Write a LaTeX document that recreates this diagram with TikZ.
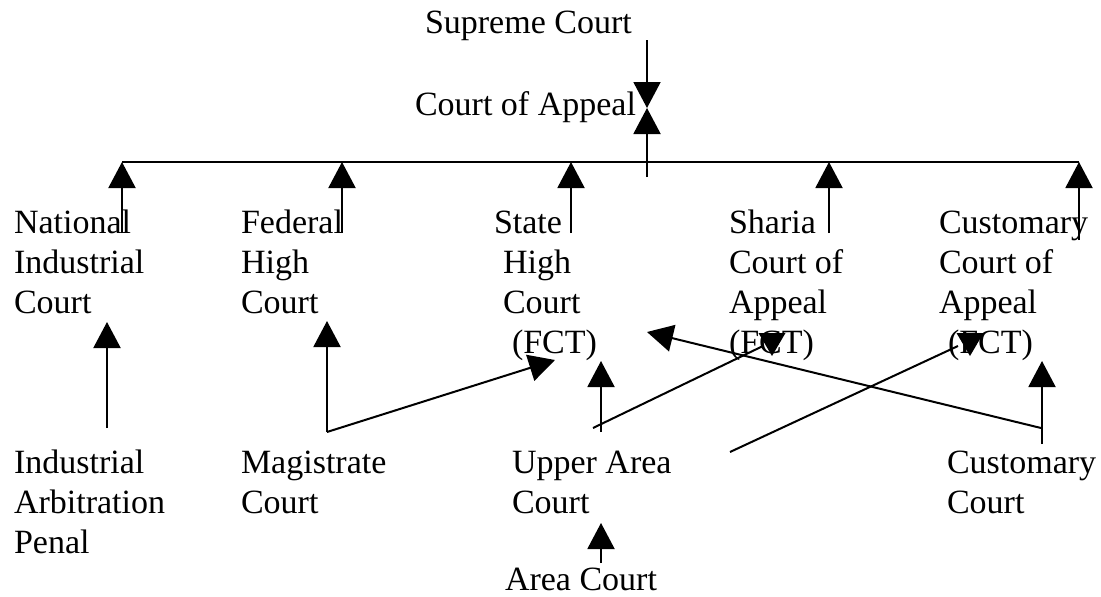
\documentclass[tikz,border=0pt]{standalone}
\usepackage{fontspec}
\setmainfont{Liberation Serif}
\usetikzlibrary{arrows.meta}
\begin{document}
\begin{tikzpicture}[x=1pt,y=-1pt,
  lbl/.style={anchor=base west,inner sep=0pt,outer sep=0pt,align=left,font=\fontsize{34}{40}\selectfont},
  conn/.style={line width=2pt},
  arr/.style={conn,-{Triangle[width=27pt,length=26pt]}},
  tri/.style={fill=black}]
\useasboundingbox (0,0) rectangle (1101,597);
% text nodes (anchored at the baseline of their last line)
\node[lbl] (sc) at (425,33) {Supreme Court};
\node[lbl] (ca) at (415,115) {Court of Appeal};
\node[lbl] (nic) at (14,313) {National\\Industrial\\Court};
\node[lbl] (fhc) at (241,313) {Federal\\High\\Court};
\node[lbl] (shc) at (494,353) {State\\\hspace*{9pt}High\\\hspace*{9pt}Court\\\hspace*{18pt}(FCT)};
\node[lbl] (sca) at (729,353) {Sharia\\Court of\\Appeal\\(FCT)};
\node[lbl] (cca) at (939,353) {Customary\\Court of\\Appeal\\\hspace*{9pt}(FCT)};
\node[lbl] (iap) at (14,553) {Industrial\\Arbitration\\Penal};
\node[lbl] (mc) at (241,513) {Magistrate\\Court};
\node[lbl] (uac) at (512,513) {Upper Area\\Court};
\node[lbl] (cc) at (947,513) {Customary\\Court};
\node[lbl] (ac) at (505,590) {Area Court};
% coordinates
\coordinate (top) at (647,40);
\coordinate (meet) at (647,108);
\coordinate (ctick) at (647,177);
\coordinate (barL) at (122,162);
\coordinate (barR) at (1079,162);
\coordinate (bNIC) at (122,162);   \coordinate (sNIC) at (122,233);
\coordinate (bFHC) at (342,162);   \coordinate (sFHC) at (342,233);
\coordinate (bSHC) at (571,162);   \coordinate (sSHC) at (571,233);
\coordinate (bSCA) at (829,162);   \coordinate (sSCA) at (829,233);
\coordinate (bCCA) at (1079,162);  \coordinate (sCCA) at (1079,240);
\coordinate (iapT) at (107,428);   \coordinate (nicB) at (107,322);
\coordinate (mcT) at (327,432);    \coordinate (fhcB) at (327,321);
\coordinate (shcB) at (555,360);
\coordinate (uacT) at (601,432);   \coordinate (shcB2) at (601,361);
\coordinate (uacT2) at (593,428);  \coordinate (scaB) at (763,346);
\coordinate (uacR) at (730,452);   \coordinate (ccaB) at (958,346);
\coordinate (ccT) at (1042,444);   \coordinate (ccaB2) at (1042,361);
\coordinate (ccL) at (1041,428);   \coordinate (shcR) at (647,332);
\coordinate (acT) at (601,563);    \coordinate (uacB) at (601,523);
% connectors
\draw[arr] (top) -- (meet);
\draw[arr] (ctick) -- (meet);
\draw[conn] (barL) -- (barR);
\draw[arr] (sNIC) -- (bNIC);
\draw[arr] (sFHC) -- (bFHC);
\draw[arr] (sSHC) -- (bSHC);
\draw[arr] (sSCA) -- (bSCA);
\draw[arr] (sCCA) -- (bCCA);
\draw[arr] (iapT) -- (nicB);
\draw[arr] (mcT) -- (fhcB);
\draw[arr] (mcT) -- (shcB);
\draw[arr] (uacT) -- (shcB2);
\draw[conn] (uacT2) -- (scaB);
\fill[tri] (758.5,333) -- (785.5,333) -- (772,356) -- cycle;
\draw[conn] (uacR) -- (ccaB);
\fill[tri] (956.5,333) -- (983.5,333) -- (970,356) -- cycle;
\draw[arr] (ccT) -- (ccaB2);
\draw[arr] (ccL) -- (shcR);
\draw[arr] (acT) -- (uacB);
\end{tikzpicture}
\end{document}
